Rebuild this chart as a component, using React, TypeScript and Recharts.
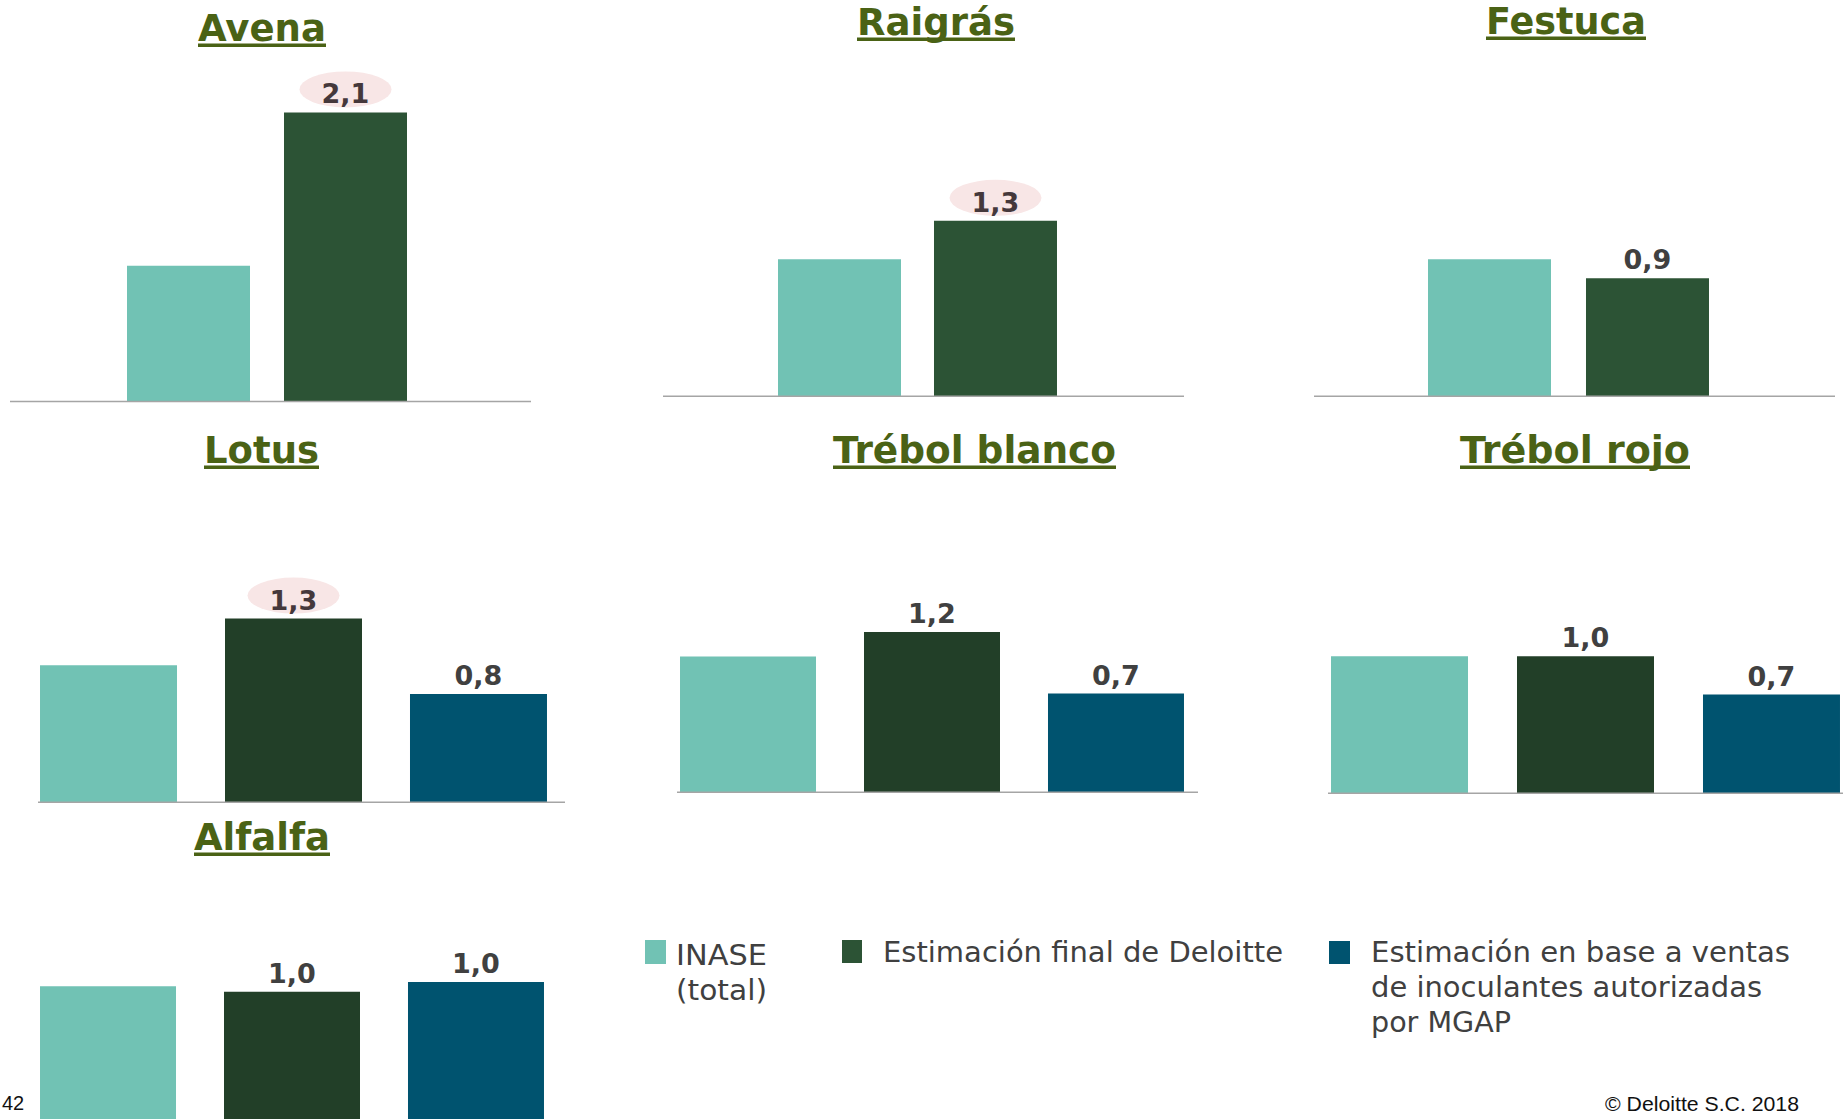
import React from 'react';
import { BarChart, Bar, XAxis, YAxis, LabelList } from 'recharts';

// one small chart per crop, values are ratios (INASE total ~ 1)
const CROPS = ['Avena', 'Raigrás', 'Festuca', 'Lotus', 'Trébol blanco', 'Trébol rojo', 'Alfalfa'];
const INASE = [0.99, 1.0, 1.0, 1.0, 0.99, 1.0, 1.0];
const DELOITTE = [2.11, 1.28, 0.86, 1.34, 1.17, 1.0, 0.96];
const MGAP: (number | null)[] = [null, null, null, 0.79, 0.72, 0.72, 1.03];
const HIGHLIGHT = ['Avena', 'Raigrás', 'Lotus'];

const LEGEND_INASE = ['INASE', '(total)'];
const LEGEND_DELOITTE = ['Estimación final de Deloitte'];
const LEGEND_MGAP = ['Estimación en base a ventas', 'de inoculantes autorizadas', 'por MGAP'];

const TEAL = '#71c2b4';
const DARK_TOP = '#2c5335';
const DARK = '#223f28';
const BLUE = '#00536f';
const OLIVE = '#4a6215';
const TEXT = '#404040';

const PX_PER_UNIT = 137;
const TOP_ROOM = 40;
const FONT = "'DejaVu Sans', Verdana, sans-serif";

const LAYOUT = [
  { x0: 10, w: 521, base: 401, dMax: 2.5, bar: 123, gap: 34, padR: 8, dark: DARK_TOP },
  { x0: 663, w: 521, base: 396, dMax: 1.6, bar: 123, gap: 33, padR: 12, dark: DARK_TOP },
  { x0: 1314, w: 521, base: 396, dMax: 1.6, bar: 123, gap: 35, padR: 12, dark: DARK_TOP },
  { x0: 38, w: 527, base: 802, dMax: 1.6, bar: 137, gap: 48, padR: 17, dark: DARK },
  { x0: 677, w: 521, base: 792, dMax: 1.6, bar: 136, gap: 48, padR: 11, dark: DARK },
  { x0: 1328, w: 520, base: 793, dMax: 1.6, bar: 137, gap: 49, padR: 5, dark: DARK },
  { x0: 38, w: 527, base: 1123, dMax: 1.6, bar: 136, gap: 48, padR: 20, dark: DARK },
];

const TITLES = [
  { x: 198, w: 128, y: 41 },
  { x: 857, w: 158, y: 35 },
  { x: 1486, w: 160, y: 34 },
  { x: 204, w: 115, y: 463 },
  { x: 833, w: 283, y: 463 },
  { x: 1460, w: 230, y: 463 },
  { x: 194, w: 136, y: 850 },
];

const fmt = (v: number) => v.toFixed(1).replace('.', ',');

function ValueLabel(props: any) {
  const vb = props.viewBox || {};
  const x = props.x ?? vb.x;
  const y = props.y ?? vb.y;
  const width = props.width ?? vb.width;
  const { value, highlight } = props;
  if (value == null) return null;
  const cx = x + width / 2;
  return (
    <g>
      {highlight && <ellipse cx={cx} cy={y - 23} rx={46} ry={18} fill="#f8e6e6" />}
      <text
        x={cx}
        y={y - 9}
        textAnchor="middle"
        fontFamily={FONT}
        fontWeight="bold"
        fontSize={27}
        fill={highlight ? '#45383b' : TEXT}
      >
        {fmt(value)}
      </text>
    </g>
  );
}

function CropChart({ i }: { i: number }) {
  const l = LAYOUT[i];
  const plotH = l.dMax * PX_PER_UNIT;
  const data = [{ name: CROPS[i], inase: INASE[i], deloitte: DELOITTE[i], mgap: MGAP[i] }];
  const hl = HIGHLIGHT.includes(CROPS[i]);
  return (
    <div style={{ position: 'absolute', left: l.x0, top: l.base - plotH - TOP_ROOM }}>
      <BarChart
        width={l.w}
        height={plotH + TOP_ROOM + 4}
        data={data}
        margin={{ top: TOP_ROOM, right: 0, bottom: 0, left: 0 }}
        barGap={l.gap}
      >
        <XAxis
          dataKey="name"
          tick={false}
          tickLine={false}
          height={4}
          axisLine={{ stroke: '#a5a5a5', strokeWidth: 1.5 }}
          padding={{ left: 0, right: l.padR }}
        />
        <YAxis hide type="number" domain={[0, l.dMax]} />
        <Bar dataKey="inase" fill={TEAL} barSize={l.bar} isAnimationActive={false} />
        <Bar dataKey="deloitte" fill={l.dark} barSize={l.bar} isAnimationActive={false}>
          <LabelList dataKey="deloitte" content={(p: any) => <ValueLabel {...p} highlight={hl} />} />
        </Bar>
        {MGAP[i] != null && (
          <Bar dataKey="mgap" fill={BLUE} barSize={l.bar} isAnimationActive={false}>
            <LabelList dataKey="mgap" content={(p: any) => <ValueLabel {...p} highlight={false} />} />
          </Bar>
        )}
      </BarChart>
    </div>
  );
}

function Overlay() {
  return (
    <svg width={1843} height={1119} style={{ position: 'absolute', left: 0, top: 0 }}>
      {TITLES.map((t, i) => (
        <g key={CROPS[i]}>
          <text
            x={t.x}
            y={t.y}
            fontFamily={FONT}
            fontWeight="bold"
            fontSize={37}
            textLength={t.w}
            lengthAdjust="spacingAndGlyphs"
            fill={OLIVE}
          >
            {CROPS[i]}
          </text>
          <rect x={t.x} y={t.y + 2.5} width={t.w} height={3.5} fill={OLIVE} />
        </g>
      ))}

      {/* legend */}
      <rect x={645} y={940} width={21} height={24} fill={TEAL} />
      {LEGEND_INASE.map((s, k) => (
        <text key={s} x={676} y={965 + k * 35} fontFamily={FONT} fontSize={29} fill={TEXT}
          textLength={91} lengthAdjust="spacingAndGlyphs">{s}</text>
      ))}
      <rect x={842} y={940} width={20} height={23} fill={DARK_TOP} />
      {LEGEND_DELOITTE.map((s) => (
        <text key={s} x={883} y={962} fontFamily={FONT} fontSize={29} fill={TEXT}
          textLength={400} lengthAdjust="spacingAndGlyphs">{s}</text>
      ))}
      <rect x={1329} y={941} width={21} height={23} fill={BLUE} />
      {LEGEND_MGAP.map((s, k) => (
        <text key={s} x={1371} y={962 + k * 35} fontFamily={FONT} fontSize={29} fill={TEXT}
          textLength={[419, 391, 140][k]} lengthAdjust="spacingAndGlyphs">{s}</text>
      ))}

      <text x={2} y={1110} fontFamily="'Liberation Sans', Arial, sans-serif" fontSize={20} fill="#111">42</text>
      <text x={1605} y={1111} fontFamily="'Liberation Sans', Arial, sans-serif" fontSize={20} fill="#111"
        textLength={194} lengthAdjust="spacingAndGlyphs">© Deloitte S.C. 2018</text>
    </svg>
  );
}

export default function App() {
  return (
    <div style={{ position: 'absolute', left: 0, top: 0, width: 1843, height: 1119, overflow: 'hidden', background: '#fff' }}>
      <Overlay />
      {CROPS.map((c, i) => <CropChart key={c} i={i} />)}
    </div>
  );
}
